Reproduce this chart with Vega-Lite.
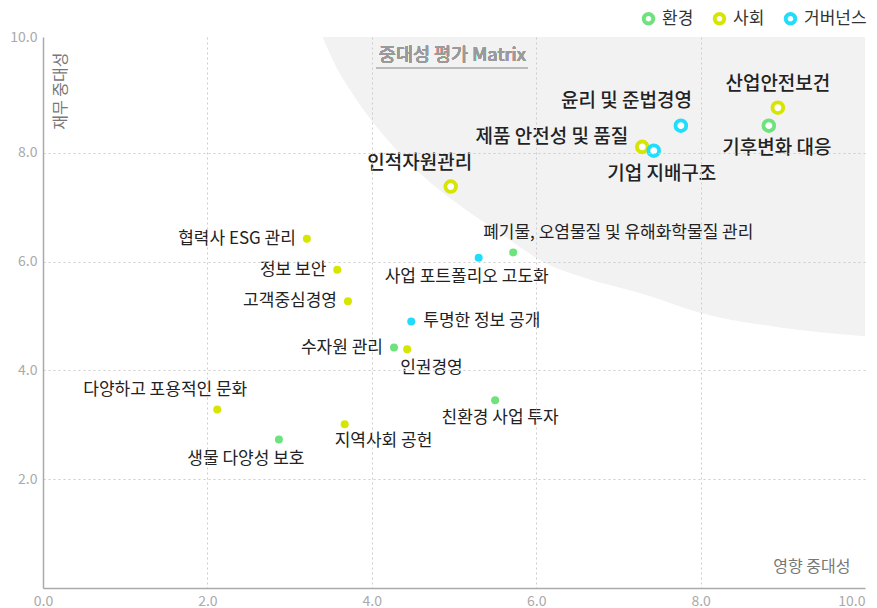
{
  "$schema": "https://vega.github.io/schema/vega-lite/v6.json",
  "width": 822,
  "height": 551,
  "autosize": {"type": "none"},
  "padding": {"left": 43, "top": 37, "right": 12, "bottom": 20},
  "background": "white",
  "config": {
    "font": "Noto Sans CJK KR",
    "view": {"stroke": null},
    "text": {"font": "Noto Sans CJK KR"}
  },
  "datasets": {
    "issues": [
      {"issue": "산업안전보건", "impact": 8.94, "financial": 8.83, "area": "사회", "tier": "주요"},
      {"issue": "기후변화 대응", "impact": 8.83, "financial": 8.5, "area": "환경", "tier": "주요"},
      {"issue": "윤리 및 준법경영", "impact": 7.76, "financial": 8.5, "area": "거버넌스", "tier": "주요"},
      {"issue": "제품 안전성 및 품질", "impact": 7.29, "financial": 8.11, "area": "사회", "tier": "주요"},
      {"issue": "기업 지배구조", "impact": 7.43, "financial": 8.04, "area": "거버넌스", "tier": "주요"},
      {"issue": "인적자원관리", "impact": 4.96, "financial": 7.38, "area": "사회", "tier": "주요"},
      {"issue": "협력사 ESG 관리", "impact": 3.21, "financial": 6.42, "area": "사회", "tier": "일반"},
      {"issue": "폐기물, 오염물질 및 유해화학물질 관리", "impact": 5.72, "financial": 6.17, "area": "환경", "tier": "일반"},
      {"issue": "사업 포트폴리오 고도화", "impact": 5.3, "financial": 6.07, "area": "거버넌스", "tier": "일반"},
      {"issue": "정보 보안", "impact": 3.58, "financial": 5.85, "area": "사회", "tier": "일반"},
      {"issue": "고객중심경영", "impact": 3.71, "financial": 5.27, "area": "사회", "tier": "일반"},
      {"issue": "투명한 정보 공개", "impact": 4.48, "financial": 4.9, "area": "거버넌스", "tier": "일반"},
      {"issue": "수자원 관리", "impact": 4.27, "financial": 4.42, "area": "환경", "tier": "일반"},
      {"issue": "인권경영", "impact": 4.43, "financial": 4.39, "area": "사회", "tier": "일반"},
      {"issue": "다양하고 포용적인 문화", "impact": 2.12, "financial": 3.28, "area": "사회", "tier": "일반"},
      {"issue": "친환경 사업 투자", "impact": 5.5, "financial": 3.45, "area": "환경", "tier": "일반"},
      {"issue": "지역사회 공헌", "impact": 3.67, "financial": 3.01, "area": "사회", "tier": "일반"},
      {"issue": "생물 다양성 보호", "impact": 2.87, "financial": 2.73, "area": "환경", "tier": "일반"}
    ],
    "zone": [
      {"impact": 3.4, "financial": 10.13},
      {"impact": 3.55, "financial": 9.63},
      {"impact": 3.8, "financial": 9.01},
      {"impact": 4.1, "financial": 8.4},
      {"impact": 4.46, "financial": 7.8},
      {"impact": 4.95, "financial": 7.17},
      {"impact": 5.52, "financial": 6.57},
      {"impact": 6.13, "financial": 5.96},
      {"impact": 6.55, "financial": 5.72},
      {"impact": 7.35, "financial": 5.38},
      {"impact": 7.99, "financial": 5.06},
      {"impact": 8.97, "financial": 4.79},
      {"impact": 10, "financial": 4.63}
    ]
  },
  "data": {"name": "issues"},
  "encoding": {
    "x": {
      "field": "impact", "type": "quantitative",
      "scale": {"domain": [0, 10], "nice": false, "zero": false},
      "axis": {
        "title": "영향 중대성",
        "titleAnchor": "end", "titleAlign": "right", "titleBaseline": "middle",
        "titleX": 807, "titleY": -22, "titleFontSize": 16, "titleFontWeight": 400, "titleColor": "#777",
        "values": [0, 2, 4, 6, 8, 10],
        "labelExpr": "format(datum.value, '.1f')",
        "labelFontSize": 14, "labelColor": "#aaa", "labelPadding": 6, "labelFlush": false, "labelOverlap": false,
        "labelAlign": {"expr": "datum.value == 10 ? 'right' : 'center'"},
        "labelDx": {"expr": "datum.value == 10 ? 12 : 0"},
        "ticks": false,
        "domainColor": "#aaa", "domainWidth": 1.5,
        "grid": true, "gridColor": "#ccc", "gridDash": [2, 3], "gridWidth": 1,
        "gridOpacity": {"condition": {"test": "datum.value == 0 || datum.value == 10", "value": 0}, "value": 1},
        "zindex": 1
      }
    },
    "y": {
      "field": "financial", "type": "quantitative",
      "scale": {"domain": [0, 10.13], "nice": false, "zero": false},
      "axis": {
        "title": "재무 중대성",
        "titleAngle": -90, "titleAlign": "right", "titleBaseline": "top",
        "titleX": 9, "titleY": 15, "titleFontSize": 16, "titleFontWeight": 400, "titleColor": "#777",
        "values": [2, 4, 6, 8, 10.13],
        "labelExpr": "datum.value > 10 ? '10.0' : format(datum.value, '.1f')",
        "labelFontSize": 14, "labelColor": "#aaa", "labelPadding": 6, "labelFlush": false, "labelOverlap": false,
        "ticks": false,
        "domainColor": "#aaa", "domainWidth": 1.5,
        "grid": true, "gridColor": "#ccc", "gridDash": [2, 3], "gridWidth": 1,
        "gridOpacity": {"condition": {"test": "datum.value > 10", "value": 0}, "value": 1},
        "zindex": 1
      }
    }
  },
  "layer": [
    {
      "data": {"name": "zone"},
      "mark": {"type": "area", "color": "#f2f2f2", "interpolate": "monotone", "orient": "vertical"},
      "encoding": {"y2": {"datum": 10.13}}
    },
    {
      "mark": {"type": "text", "fontSize": 18.5, "fontWeight": "normal", "color": "#9a9a9a", "align": "center", "baseline": "middle"},
      "encoding": {
        "x": {"datum": 4.98, "type": "quantitative"},
        "y": {"datum": 9.8, "type": "quantitative"},
        "text": {"value": "중대성 평가 Matrix"}
      }
    },
    {
      "mark": {"type": "rule", "color": "#bbb", "strokeWidth": 2},
      "encoding": {
        "x": {"datum": 4.06, "type": "quantitative"},
        "x2": {"datum": 5.9},
        "y": {"datum": 9.56, "type": "quantitative"}
      }
    },
    {
      "transform": [{"filter": "datum.tier == '일반'"}],
      "mark": {"type": "point", "shape": "circle", "filled": true, "size": 64, "opacity": 1},
      "encoding": {
        "color": {"field": "area", "type": "nominal",
          "scale": {"domain": ["환경", "사회", "거버넌스"], "range": ["#6ee27c", "#d6e600", "#22dcfb"]},
          "legend": {
            "title": null, "orient": "none", "legendX": 597, "legendY": -27, "direction": "horizontal",
            "symbolType": "M -1 0 A 1 1 0 1 0 1 0 A 1 1 0 1 0 -1 0 Z M -0.42 0 A 0.42 0.42 0 1 1 0.42 0 A 0.42 0.42 0 1 1 -0.42 0 Z",
            "symbolSize": 180, "symbolStrokeWidth": 0, "symbolOpacity": 1,
            "labelFontSize": 17, "labelColor": "#333", "labelOffset": 5, "columnPadding": 17, "padding": 0
          }}
      }
    },
    {
      "transform": [{"filter": "datum.tier == '주요'"}],
      "mark": {"type": "point", "shape": "circle", "filled": false, "fill": "white", "size": 115, "strokeWidth": 3.8, "opacity": 1},
      "encoding": {
        "stroke": {"field": "area", "type": "nominal",
          "scale": {"domain": ["환경", "사회", "거버넌스"], "range": ["#6ee27c", "#d6e600", "#22dcfb"]},
          "legend": null}
      }
    },
    {"transform": [{"filter": "datum.issue == '산업안전보건'"}],
     "mark": {"type": "text", "fontSize": 19, "fontWeight": 500, "color": "#222", "align": "center", "baseline": "middle", "dy": -24},
     "encoding": {"text": {"field": "issue"}}},
    {"transform": [{"filter": "datum.issue == '기후변화 대응'"}],
     "mark": {"type": "text", "fontSize": 19, "fontWeight": 500, "color": "#222", "align": "center", "baseline": "middle", "dx": 8, "dy": 22},
     "encoding": {"text": {"field": "issue"}}},
    {"transform": [{"filter": "datum.issue == '윤리 및 준법경영'"}],
     "mark": {"type": "text", "fontSize": 19, "fontWeight": 500, "color": "#222", "align": "right", "baseline": "middle", "dx": 11, "dy": -25},
     "encoding": {"text": {"field": "issue"}}},
    {"transform": [{"filter": "datum.issue == '제품 안전성 및 품질'"}],
     "mark": {"type": "text", "fontSize": 19, "fontWeight": 500, "color": "#222", "align": "right", "baseline": "middle", "dx": -14, "dy": -10},
     "encoding": {"text": {"field": "issue"}}},
    {"transform": [{"filter": "datum.issue == '기업 지배구조'"}],
     "mark": {"type": "text", "fontSize": 19, "fontWeight": 500, "color": "#222", "align": "center", "baseline": "middle", "dx": 8, "dy": 23},
     "encoding": {"text": {"field": "issue"}}},
    {"transform": [{"filter": "datum.issue == '인적자원관리'"}],
     "mark": {"type": "text", "fontSize": 19, "fontWeight": 500, "color": "#222", "align": "center", "baseline": "middle", "dx": -31, "dy": -24},
     "encoding": {"text": {"field": "issue"}}},
    {"transform": [{"filter": "indexof(['협력사 ESG 관리', '정보 보안', '고객중심경영', '수자원 관리'], datum.issue) >= 0"}],
     "mark": {"type": "text", "fontSize": 17, "color": "#222", "align": "right", "baseline": "middle", "dx": -11},
     "encoding": {"text": {"field": "issue"}}},
    {"transform": [{"filter": "datum.issue == '투명한 정보 공개'"}],
     "mark": {"type": "text", "fontSize": 17, "color": "#222", "align": "left", "baseline": "middle", "dx": 12},
     "encoding": {"text": {"field": "issue"}}},
    {"transform": [{"filter": "datum.issue == '폐기물, 오염물질 및 유해화학물질 관리'"}],
     "mark": {"type": "text", "fontSize": 17, "color": "#222", "align": "left", "baseline": "middle", "dx": -30, "dy": -19},
     "encoding": {"text": {"field": "issue"}}},
    {"transform": [{"filter": "datum.issue == '사업 포트폴리오 고도화'"}],
     "mark": {"type": "text", "fontSize": 17, "color": "#222", "align": "center", "baseline": "middle", "dx": -12, "dy": 19},
     "encoding": {"text": {"field": "issue"}}},
    {"transform": [{"filter": "datum.issue == '인권경영'"}],
     "mark": {"type": "text", "fontSize": 17, "color": "#222", "align": "left", "baseline": "middle", "dx": -7, "dy": 19},
     "encoding": {"text": {"field": "issue"}}},
    {"transform": [{"filter": "datum.issue == '다양하고 포용적인 문화'"}],
     "mark": {"type": "text", "fontSize": 17, "color": "#222", "align": "center", "baseline": "middle", "dx": -52, "dy": -20},
     "encoding": {"text": {"field": "issue"}}},
    {"transform": [{"filter": "datum.issue == '친환경 사업 투자'"}],
     "mark": {"type": "text", "fontSize": 17, "color": "#222", "align": "center", "baseline": "middle", "dx": 5, "dy": 18},
     "encoding": {"text": {"field": "issue"}}},
    {"transform": [{"filter": "datum.issue == '지역사회 공헌'"}],
     "mark": {"type": "text", "fontSize": 17, "color": "#222", "align": "left", "baseline": "middle", "dx": -10, "dy": 17},
     "encoding": {"text": {"field": "issue"}}},
    {"transform": [{"filter": "datum.issue == '생물 다양성 보호'"}],
     "mark": {"type": "text", "fontSize": 17, "color": "#222", "align": "center", "baseline": "middle", "dx": -33, "dy": 19},
     "encoding": {"text": {"field": "issue"}}}
  ]
}
